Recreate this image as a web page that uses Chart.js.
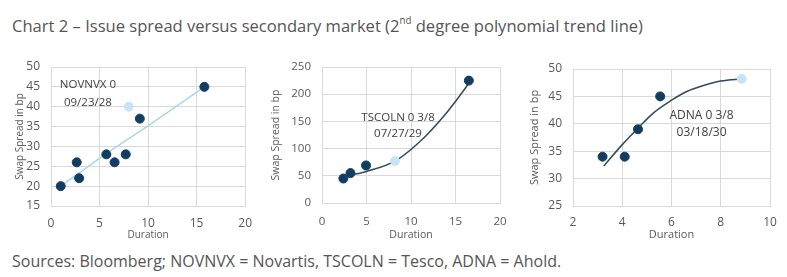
<!DOCTYPE html>
<html>
<head>
<meta charset="utf-8">
<script src="https://cdn.jsdelivr.net/npm/chart.js@4.4.0/dist/chart.umd.min.js"></script>
<style>
  body { margin: 0; background: #fff; width: 787px; height: 277px; overflow: hidden; position: relative; font-family: "Open Sans", sans-serif; }
  #title { position: absolute; left: 12px; top: 14px; font-size: 17px; color: #555; white-space: nowrap; transform-origin: 0 0; line-height: 24px; }
  #title sup { font-size: 10px; line-height: 0; position: relative; top: -1px; }
  #src { position: absolute; left: 12px; top: 250px; font-size: 16px; color: #555; white-space: nowrap; line-height: 22px; }
  canvas { position: absolute; }
</style>
</head>
<body>
<div id="title">Chart 2 – Issue spread versus secondary market (2<sup>nd</sup> degree polynomial trend line)</div>
<canvas id="c1" width="262" height="200" style="left:0px;top:48px"></canvas>
<canvas id="c2" width="262" height="200" style="left:262px;top:48px"></canvas>
<canvas id="c3" width="263" height="200" style="left:524px;top:48px"></canvas>
<div id="src">Sources: Bloomberg; NOVNVX = Novartis, TSCOLN = Tesco, ADNA = Ahold.</div>
<script>
// Novartis
const novDur = [1.0, 2.65, 2.9, 5.7, 6.55, 7.7, 9.15, 15.8];
const novSpread = [20, 26, 22, 28, 26, 28, 37, 45];
const novIssueDur = [8.0];
const novIssueSpread = [40];
const novTrendDur = [0.9, 5.7, 10, 15.8];
const novTrendSpread = [19.8, 28.2, 35.2, 45];

// Tesco
const tscDur = [2.4, 3.2, 4.95, 16.5];
const tscSpread = [45, 55, 69, 225];
const tscIssueDur = [8.2];
const tscIssueSpread = [77];
const tscTrendDur = [3.1, 5, 8.4, 11.4, 13.6, 15.1, 16.5];
const tscTrendSpread = [51, 58, 79, 119, 158, 189, 220];

// Ahold
const adnDur = [3.2, 4.1, 4.64, 5.54];
const adnSpread = [34, 34, 39, 45];
const adnIssueDur = [8.85];
const adnIssueSpread = [48.2];
const adnTrendDur = [3.25, 4, 4.64, 5.27, 6, 6.62, 7.3, 8, 8.9];
const adnTrendSpread = [32.3, 36.2, 39.2, 42, 44.3, 45.9, 47, 47.8, 48.2];

const dark = "#123d63";
const light = "#c6e4f5";
const gridColor = "#d9d9d9";
const textColor = "#595959";

function xy(xs, ys) {
  return xs.map((x, i) => ({ x: x, y: ys[i] }));
}

// bond label drawn inside the plot
const notePlugin = {
  id: "note",
  afterDatasetsDraw(chart, args, opts) {
    const ctx = chart.ctx;
    const xs = chart.scales.x, ys = chart.scales.y;
    ctx.save();
    ctx.font = opts.size + "px 'Open Sans'";
    ctx.fillStyle = "#404040";
    ctx.textAlign = "center";
    ctx.textBaseline = "middle";
    opts.lines.forEach((t, i) => {
      ctx.fillText(t, xs.getPixelForValue(opts.x), ys.getPixelForValue(opts.y[i]));
    });
    ctx.restore();
  }
};

function makeChart(id, c) {
  const tickFont = { family: "'Open Sans'", size: c.tickFont };
  const titleFont = { family: "'Open Sans'", size: c.titleFont };
  new Chart(document.getElementById(id), {
    type: "scatter",
    data: {
      datasets: [
        { type: "line", data: c.trend, borderColor: c.trendColor, borderWidth: 1.5, pointRadius: 0, fill: false, cubicInterpolationMode: "monotone", order: 3 },
        { data: c.issue, backgroundColor: light, borderColor: light, pointRadius: 4.5, order: 2 },
        { data: c.points, backgroundColor: dark, borderColor: dark, pointRadius: 4.5, order: 1 }
      ]
    },
    options: {
      responsive: false,
      animation: false,
      layout: { padding: { left: 0, top: c.top, right: c.right, bottom: 0 } },
      plugins: {
        legend: { display: false },
        tooltip: { enabled: false },
        note: c.note
      },
      scales: {
        x: {
          type: "linear", min: c.xMin, max: c.xMax,
          ticks: { stepSize: c.xStep, color: textColor, font: tickFont, padding: c.xPad, maxRotation: 0 },
          grid: { color: gridColor, drawTicks: false },
          border: { color: gridColor },
          title: { display: true, text: "Duration", color: textColor, font: titleFont, padding: { top: 0, bottom: c.xTitlePad } },
          afterFit: s => { s.height = c.xH; }
        },
        y: {
          min: c.yMin, max: c.yMax,
          ticks: { stepSize: c.yStep, color: textColor, font: tickFont, padding: 11 },
          grid: { color: gridColor, drawTicks: false },
          border: { color: gridColor },
          title: { display: true, text: "Swap Spread in bp", color: textColor, font: titleFont, padding: { top: c.yTitlePad, bottom: 0 } },
          afterFit: s => { s.width = c.yW; }
        }
      }
    },
    plugins: [notePlugin]
  });
}

makeChart("c1", {
  points: xy(novDur, novSpread), issue: xy(novIssueDur, novIssueSpread), trend: xy(novTrendDur, novTrendSpread),
  trendColor: "#a9d6ec", tickFont: 12, titleFont: 10,
  xMin: 0, xMax: 20, xStep: 5, yMin: 15, yMax: 50, yStep: 5,
  top: 19, right: 14, xH: 42, yW: 51, xPad: 10, xTitlePad: 7, yTitlePad: 14,
  note: { x: 3.8, y: [45.5, 41], lines: ["NOVNVX 0", "09/23/28"], size: 11.5 }
});

makeChart("c2", {
  points: xy(tscDur, tscSpread), issue: xy(tscIssueDur, tscIssueSpread), trend: xy(tscTrendDur, tscTrendSpread),
  trendColor: "#2e4a5c", tickFont: 11.5, titleFont: 10.5,
  xMin: 0, xMax: 20, xStep: 5, yMin: 0, yMax: 250, yStep: 50,
  top: 19, right: 24, xH: 45, yW: 60, xPad: 12, xTitlePad: 7, yTitlePad: 8,
  note: { x: 8.54, y: [156, 128], lines: ["TSCOLN 0 3/8", "07/27/29"], size: 11.5 }
});

makeChart("c3", {
  points: xy(adnDur, adnSpread), issue: xy(adnIssueDur, adnIssueSpread), trend: xy(adnTrendDur, adnTrendSpread),
  trendColor: "#2e4a5c", tickFont: 12, titleFont: 11,
  xMin: 2, xMax: 10, xStep: 2, yMin: 25, yMax: 50, yStep: 5,
  top: 21, right: 17, xH: 42, yW: 49, xPad: 9, xTitlePad: 7, yTitlePad: 4,
  note: { x: 7.22, y: [41.5, 38.4], lines: ["ADNA 0 3/8", "03/18/30"], size: 12 }
});

// title in the reference uses a narrow face: squeeze to its width
const title = document.getElementById("title");
const w = title.getBoundingClientRect().width;
title.style.transform = "scaleX(" + (631 / w) + ")";
</script>
</body>
</html>
